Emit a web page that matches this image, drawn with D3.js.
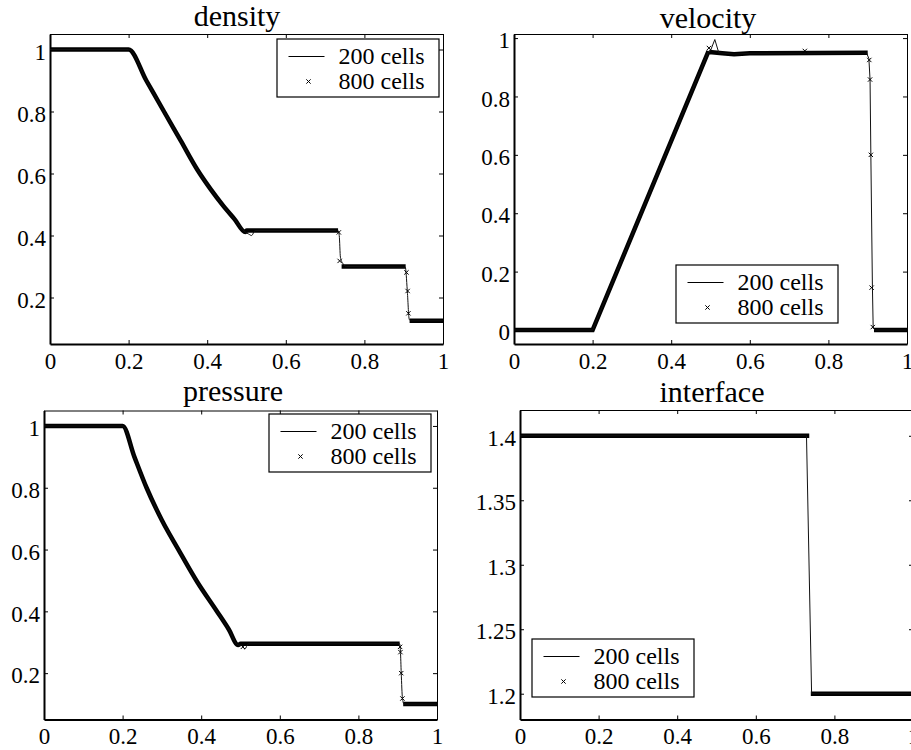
<!DOCTYPE html>
<html>
<head>
<meta charset="utf-8">
<script src="https://cdn.jsdelivr.net/npm/d3@7"></script>
</head>
<body style="margin:0">
<div id="chart"></div>
<script>
const FONT = '"Liberation Serif"';

// shared x axis ticks
const xTicks = [0, 0.2, 0.4, 0.6, 0.8, 1];
const xTickLabels = ["0", "0.2", "0.4", "0.6", "0.8", "1"];
const legendLabels = ["200 cells", "800 cells"];

// ---- density ----
const densityTicks = [0.2, 0.4, 0.6, 0.8, 1];
const densityTickLabels = ["0.2", "0.4", "0.6", "0.8", "1"];
const density200 = [[0,1],[0.2,1],[0.245,0.9],[0.29,0.8],[0.333,0.705],[0.375,0.612],[0.41,0.547],[0.44,0.497],[0.47,0.452],[0.497,0.411],
  [0.505,0.405],[0.513,0.4],[0.522,0.416],[0.733,0.416],[0.736,0.4],[0.739,0.33],[0.745,0.31],[0.755,0.3],
  [0.904,0.298],[0.909,0.225],[0.914,0.13],[0.918,0.125],[1,0.125]];
// 800 cells: where the markers are so dense they merge into a thick line (null = gap)
const density800 = [[0,1],[0.2,1],[0.245,0.9],[0.29,0.8],[0.333,0.705],[0.375,0.612],[0.41,0.547],[0.44,0.497],[0.47,0.452],[0.497,0.411],
  [0.5,0.416],[0.733,0.416], null, [0.742,0.3],[0.905,0.3], null, [0.915,0.125],[1,0.125]];
// 800 cells: single markers visible inside the jumps
const density800Pts = [[0.735,0.41],[0.737,0.318],[0.907,0.281],[0.910,0.221],[0.912,0.149]];

// ---- velocity ----
const velocityTicks = [0, 0.2, 0.4, 0.6, 0.8, 1];
const velocityTickLabels = ["0", "0.2", "0.4", "0.6", "0.8", "1"];
const velocity200 = [[0,0],[0.2,0],[0.495,0.955],[0.5,0.957],[0.511,0.995],[0.521,0.95],[0.56,0.945],[0.6,0.948],
  [0.897,0.949],[0.903,0.93],[0.906,0.857],[0.908,0.6],[0.912,0.148],[0.914,0.006],[0.92,0],[1,0]];
const velocity800 = [[0,0],[0.2,0],[0.495,0.955], null, [0.497,0.952],[0.53,0.948],[0.56,0.945],[0.6,0.948],[0.9,0.95],
  null, [0.916,0],[1,0]];
const velocity800Pts = [[0.496,0.966],[0.74,0.956],[0.904,0.925],[0.906,0.858],[0.908,0.6],[0.910,0.145],[0.913,0.01]];

// ---- pressure ----
const pressureTicks = [0.2, 0.4, 0.6, 0.8, 1];
const pressureTickLabels = ["0.2", "0.4", "0.6", "0.8", "1"];
const pressure200 = [[0,1],[0.2,1],[0.23,0.9],[0.261,0.8],[0.3,0.695],[0.342,0.6],[0.39,0.495],[0.439,0.402],[0.47,0.342],
  [0.494,0.291],[0.503,0.29],[0.511,0.278],[0.52,0.295],[0.905,0.295],[0.907,0.27],[0.909,0.2],[0.912,0.12],[0.916,0.1],[1,0.1]];
const pressure800 = [[0,1],[0.2,1],[0.23,0.9],[0.261,0.8],[0.3,0.695],[0.342,0.6],[0.39,0.495],[0.439,0.402],[0.47,0.342],
  [0.494,0.291],[0.5,0.295],[0.905,0.295], null, [0.914,0.1],[1,0.1]];
const pressure800Pts = [[0.506,0.285],[0.906,0.285],[0.907,0.268],[0.909,0.2],[0.912,0.118]];

// ---- interface ----
const interfaceTicks = [1.2, 1.25, 1.3, 1.35, 1.4];
const interfaceTickLabels = ["1.2", "1.25", "1.3", "1.35", "1.4"];
const interface200 = [[0,1.4],[0.729,1.4],[0.742,1.2],[1,1.2]];
const interface800 = [[0,1.4],[0.736,1.4], null, [0.74,1.2],[1,1.2]];
const interface800Pts = [];

const W = 911, H = 750;

const panels = [
  {title: "density", left: 50, right: 443, top: 34, bottom: 344, yDomain: [0.05, 1.05], curve: d3.curveMonotoneX,
   yTicks: densityTicks, yLabels: densityTickLabels, d200: density200, d800: density800, pts: density800Pts,
   titleX: 237, titleY: 26, legend: [277, 39]},
  {title: "velocity", left: 514, right: 907, top: 34, bottom: 344, yDomain: [-0.048, 1.014], curve: d3.curveLinear,
   yTicks: velocityTicks, yLabels: velocityTickLabels, d200: velocity200, d800: velocity800, pts: velocity800Pts,
   titleX: 708, titleY: 28, legend: [676, 265]},
  {title: "pressure", left: 44, right: 437, top: 410.5, bottom: 719.5, yDomain: [0.05, 1.05], curve: d3.curveMonotoneX,
   yTicks: pressureTicks, yLabels: pressureTickLabels, d200: pressure200, d800: pressure800, pts: pressure800Pts,
   titleX: 233, titleY: 401, legend: [269, 414]},
  {title: "interface", left: 520, right: 913, top: 410, bottom: 719.5, yDomain: [1.18, 1.42], curve: d3.curveLinear,
   yTicks: interfaceTicks, yLabels: interfaceTickLabels, d200: interface200, d800: interface800, pts: interface800Pts,
   titleX: 712, titleY: 402, legend: [532, 639]}
];

const svg = d3.select("#chart")
  .append("svg")
    .attr("width", W)
    .attr("height", H);

const marker = d3.symbol().type(d3.symbolTimes).size(14);

// d3 axis puts font-family="sans-serif" on its group; drop it so the serif face is used
function cleanAxis(a, thick) {
  a.attr("font-family", null).attr("font-size", null);
  a.select(".domain").attr("stroke-width", thick);
}

function drawPanel(p) {
  const x = d3.scaleLinear().domain([0, 1]).range([p.left, p.right]);
  const y = d3.scaleLinear().domain(p.yDomain).range([p.bottom, p.top]);
  const g = svg.append("g");

  // top + right (thin box sides, ticks inward, no labels)
  g.append("g")
    .attr("transform", `translate(0,${p.top})`)
    .call(d3.axisTop(x).tickValues(xTicks).tickSizeInner(-4).tickSizeOuter(0))
    .call(a => cleanAxis(a, 1))
    .call(a => a.selectAll("text").remove());
  g.append("g")
    .attr("transform", `translate(${p.right},0)`)
    .call(d3.axisRight(y).tickValues(p.yTicks).tickSizeInner(-4).tickSizeOuter(0))
    .call(a => cleanAxis(a, 1))
    .call(a => a.selectAll("text").remove());

  // bottom axis
  g.append("g")
    .attr("transform", `translate(0,${p.bottom})`)
    .call(d3.axisBottom(x).tickValues(xTicks).tickFormat((d, i) => xTickLabels[i]).tickSizeInner(-4).tickSizeOuter(0))
    .call(a => cleanAxis(a, 2))
    .call(a => a.selectAll("text").attr("y", p.top < 100 ? 25 : 24.5).attr("dy", 0)
      .attr("fill", "#000").attr("font-size", 23).style("font-family", FONT));

  // left axis
  g.append("g")
    .attr("transform", `translate(${p.left},0)`)
    .call(d3.axisLeft(y).tickValues(p.yTicks).tickFormat((d, i) => p.yLabels[i]).tickSizeInner(-4).tickSizeOuter(0).tickPadding(4))
    .call(a => cleanAxis(a, 2))
    .call(a => a.selectAll("text").attr("dy", "0.42em")
      .attr("fill", "#000").attr("font-size", 23).style("font-family", FONT));

  // 800 cells - dense markers drawn as a thick band
  g.append("path")
    .datum(p.d800)
    .attr("fill", "none")
    .attr("stroke", "#000")
    .attr("stroke-width", 4.5)
    .attr("d", d3.line().defined(d => d).curve(p.curve).x(d => x(d[0])).y(d => y(d[1])));

  // 200 cells
  g.append("path")
    .datum(p.d200)
    .attr("fill", "none")
    .attr("stroke", "#111")
    .attr("stroke-width", 1)
    .attr("d", d3.line().curve(p.curve).x(d => x(d[0])).y(d => y(d[1])));

  g.append("g")
    .selectAll("path")
    .data(p.pts)
    .join("path")
      .attr("transform", d => `translate(${x(d[0])},${y(d[1])})`)
      .attr("d", marker)
      .attr("fill", "none")
      .attr("stroke", "#000")
      .attr("stroke-width", 1);

  // title
  g.append("text")
    .attr("x", p.titleX)
    .attr("y", p.titleY)
    .attr("text-anchor", "middle")
    .attr("font-size", 30)
    .style("font-family", FONT)
    .text(p.title);

  // legend
  const lg = g.append("g").attr("transform", `translate(${p.legend[0]},${p.legend[1]})`);
  lg.append("rect")
    .attr("width", 162).attr("height", 58)
    .attr("fill", "#fff").attr("stroke", "#000").attr("stroke-width", 1.2);
  lg.append("line")
    .attr("x1", 11.5).attr("x2", 47.5).attr("y1", 17.5).attr("y2", 17.5)
    .attr("stroke", "#000").attr("stroke-width", 1);
  lg.append("path")
    .attr("transform", "translate(31.5,42.5)")
    .attr("d", marker)
    .attr("fill", "none").attr("stroke", "#000").attr("stroke-width", 1);
  lg.selectAll("text.lab")
    .data(legendLabels)
    .join("text")
      .attr("class", "lab")
      .attr("x", 61.5)
      .attr("y", (d, i) => i === 0 ? 24.5 : 50)
      .attr("font-size", 24)
      .style("font-family", FONT)
      .text(d => d);
}

panels.forEach(drawPanel);
</script>
</body>
</html>
